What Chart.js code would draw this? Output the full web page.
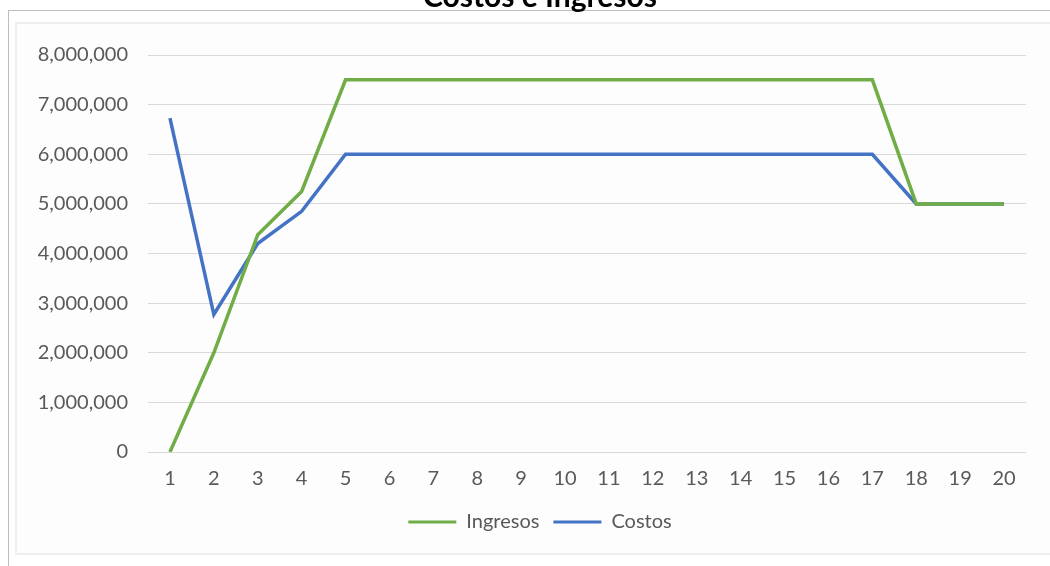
<!DOCTYPE html>
<html>
<head>
<meta charset="utf-8">
<script src="https://cdn.jsdelivr.net/npm/chart.js@4/dist/chart.umd.min.js"></script>
<style>
  html, body { margin:0; padding:0; background:#fff; overflow:hidden; }
  body { width:1050px; height:566px; position:relative; }
  #outer { position:absolute; left:8px; top:10px; width:1050px; height:600px; border-left:1px solid #bdbdbd; border-top:1px solid #bdbdbd; box-sizing:border-box; }
  #inner { position:absolute; left:15px; top:22px; width:1040px; height:533px; border:2px solid #efefef; box-sizing:border-box; background:#fdfdfd; }
  #wrap { position:absolute; left:0; top:-24px; width:1080px; height:590px; }
</style>
</head>
<body>
<div id="outer"></div>
<div id="inner"></div>
<div id="wrap"><canvas id="c"></canvas></div>
<script>
const categories = ['1','2','3','4','5','6','7','8','9','10','11','12','13','14','15','16','17','18','19','20'];
const ingresos = [0, 2000000, 4380000, 5250000, 7500000, 7500000, 7500000, 7500000, 7500000, 7500000, 7500000, 7500000, 7500000, 7500000, 7500000, 7500000, 7500000, 5000000, 5000000, 5000000];
const costos = [6730000, 2770000, 4200000, 4850000, 6000000, 6000000, 6000000, 6000000, 6000000, 6000000, 6000000, 6000000, 6000000, 6000000, 6000000, 6000000, 6000000, 5000000, 5000000, 5000000];
const chartTitle = 'Costos e Ingresos';

const FONT = 'Lato, "Open Sans", sans-serif';
new Chart(document.getElementById('c'), {
  type: 'line',
  data: {
    labels: categories,
    datasets: [
      { label: 'Ingresos', data: ingresos, borderColor: '#70ad47', backgroundColor: '#70ad47', borderWidth: 3.5, pointRadius: 0, tension: 0 },
      { label: 'Costos', data: costos, borderColor: '#4472c4', backgroundColor: '#4472c4', borderWidth: 3.5, pointRadius: 0, tension: 0 }
    ]
  },
  options: {
    responsive: true,
    maintainAspectRatio: false,
    animation: false,
    layout: { padding: { left: 0, right: 0, top: 0, bottom: 24 } },
    plugins: {
      title: { display: true, text: chartTitle, color: '#000', font: { family: FONT, size: 30, weight: 'bold' }, padding: { top: 3, bottom: 40 } },
      legend: {
        position: 'bottom',
        labels: { color: '#595959', font: { family: FONT, size: 20 }, boxWidth: 48, boxHeight: 3, padding: 14,
          generateLabels(chart) {
            return chart.data.datasets.map((d, i) => ({ text: d.label, fillStyle: d.borderColor, strokeStyle: d.borderColor, lineWidth: 0, datasetIndex: i, fontColor: '#595959' }));
          }
        }
      },
      tooltip: { enabled: false }
    },
    scales: {
      x: {
        offset: true,
        grid: { display: false },
        border: { display: false },
        ticks: { color: '#595959', font: { family: FONT, size: 20 }, padding: 7, maxRotation: 0, autoSkip: false }
      },
      y: {
        min: 0, max: 8000000,
        afterFit(s) { s.width = 148; },
        grid: { color: '#d9d9d9', lineWidth: 1, drawTicks: false },
        border: { display: false },
        ticks: { stepSize: 1000000, color: '#595959', font: { family: FONT, size: 20 }, padding: 20,
          callback: v => v.toLocaleString('en-US') }
      },
      yRight: {
        type: 'linear',
        position: 'right',
        min: 0, max: 8000000,
        afterFit(s) { s.width = 54; },
        grid: { display: false, drawTicks: false },
        border: { display: false },
        ticks: { display: false }
      }
    }
  }
});
</script>
</body>
</html>
